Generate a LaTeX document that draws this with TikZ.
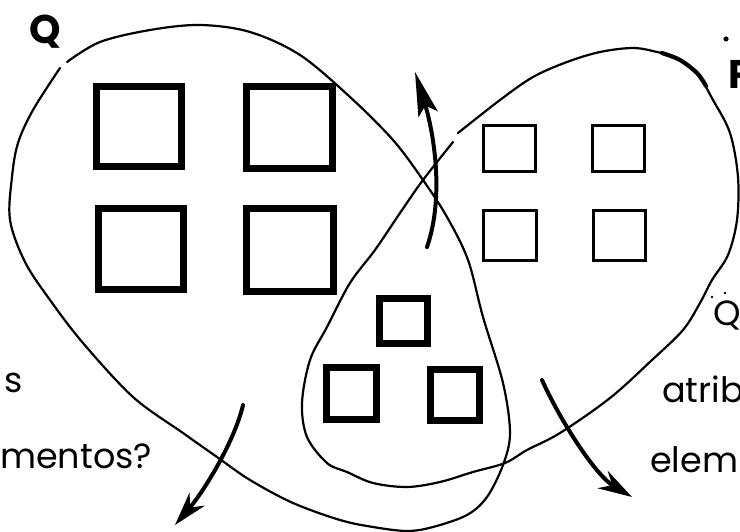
\documentclass[tikz,border=0pt]{standalone}
\usepackage{fontspec}
\setmainfont{Poppins}
\usetikzlibrary{arrows.meta}
\begin{document}
\begin{tikzpicture}[x=1pt,y=-1pt,
  thicksq/.style={draw=black, line width=7pt, inner sep=0pt, outer sep=0pt},
  thinsq/.style={draw=black, line width=3.2pt, inner sep=0pt, outer sep=0pt},
  setline/.style={draw=black, line width=2.2pt, line join=round, line cap=round},
  bigarrow/.style={draw=black, line width=4pt, line cap=round},
  txt/.style={inner sep=0pt, anchor=base west, font=\fontsize{35}{40}\selectfont},
  setname/.style={inner sep=0pt, anchor=base west, font=\fontsize{40}{44}\selectfont\bfseries},
  speck/.style={fill=black, draw=none}
]
\useasboundingbox (0,0) rectangle (740,532);
\fill[white] (0,0) rectangle (740,532);

% set Q
\draw[setline] plot[smooth, tension=0.55] coordinates {
 (67,62) (100,42) (150,30) (200,25) (250,32) (300,55) (350,97) (393,140)
 (423,180) (447,217) (468,260) (483,317) (503,383) (510,433) (503,465)
 (487,497) (467,515) (433,527) (407,531) (373,527) (340,520) (293,503)
 (250,480) (217,457) (183,433) (133,397) (83,343) (50,300) (25,262)
 (10,220) (12,177) (18,143) (33,110) (60,68)};

% set P
\draw[setline] plot[smooth, tension=0.55] coordinates {
 (458,133) (500,100) (533,77) (567,62) (600,52) (633,48) (657,52) (677,58)
 (697,73) (713,100) (730,133) (738,177) (737,220) (728,255) (712,280)
 (700,303) (683,330) (652,360) (610,398) (560,433) (527,450) (505,463)
 (473,472) (440,482) (407,487) (373,483) (347,472) (327,463) (307,437)
 (302,403) (310,360) (327,327) (350,283) (375,250) (400,213) (423,180)
 (453,142)};
\draw[line width=4.2pt, line cap=round] plot[smooth, tension=0.55] coordinates {
 (662,53) (680,60) (697,73) (706,86)};

% squares only in Q
\node[thicksq, minimum width=85pt, minimum height=80pt] (q1) at (139,126.5) {};
\node[thicksq, minimum width=86pt, minimum height=82pt] (q2) at (289.5,127.5) {};
\node[thicksq, minimum width=85pt, minimum height=81pt] (q3) at (141,249) {};
\node[thicksq, minimum width=87pt, minimum height=83pt] (q4) at (290,250) {};

% squares only in P
\node[thinsq, minimum width=51.8pt, minimum height=45.8pt] (p1) at (509.5,148.5) {};
\node[thinsq, minimum width=51.8pt, minimum height=45.8pt] (p2) at (618.5,148.5) {};
\node[thinsq, minimum width=52.8pt, minimum height=49.8pt] (p3) at (510,235.5) {};
\node[thinsq, minimum width=51.8pt, minimum height=49.8pt] (p4) at (619.5,235.5) {};

% squares in the intersection
\node[thicksq, minimum width=48pt, minimum height=45pt] (i1) at (403.5,321) {};
\node[thicksq, minimum width=50pt, minimum height=52pt] (i2) at (351.5,393.5) {};
\node[thicksq, minimum width=49pt, minimum height=51pt] (i3) at (455,395) {};

% arrows
\coordinate (a1s) at (427,247);
\coordinate (a1e) at (415,72);
\draw[bigarrow, -{Stealth[length=44pt,width=20pt,inset=9pt]}]
  (a1s) .. controls (445,195) and (433,130) .. (a1e);
\coordinate (a2s) at (243,405);
\coordinate (a2e) at (175,525);
\draw[bigarrow, -{Stealth[length=34pt,width=20pt,inset=11pt]}]
  (a2s) .. controls (235,440) and (205,490) .. (a2e);
\coordinate (a3s) at (542,380);
\coordinate (a3e) at (632,497);
\draw[bigarrow, -{Stealth[length=34pt,width=20pt,inset=11pt]}]
  (a3s) .. controls (560,420) and (595,475) .. (a3e);

% labels
\node[setname] (lq) at (29,44) {Q};
\node[setname] (lp) at (728,89) {P};
\node[txt] (tq) at (713,325) {Q};
\node[txt] (ta) at (662,402) {atrib};
\node[txt] (te) at (650,472) {elem};
\node[txt] (ts) at (4,392) {s};
\node[txt] (tm) at (0,468) {mentos?};

% specks
\fill[speck] (726,39) circle (2.6pt);
\fill[speck] (712,297) circle (1.3pt);
\fill[speck] (725,293) circle (1.3pt);
\end{tikzpicture}
\end{document}
